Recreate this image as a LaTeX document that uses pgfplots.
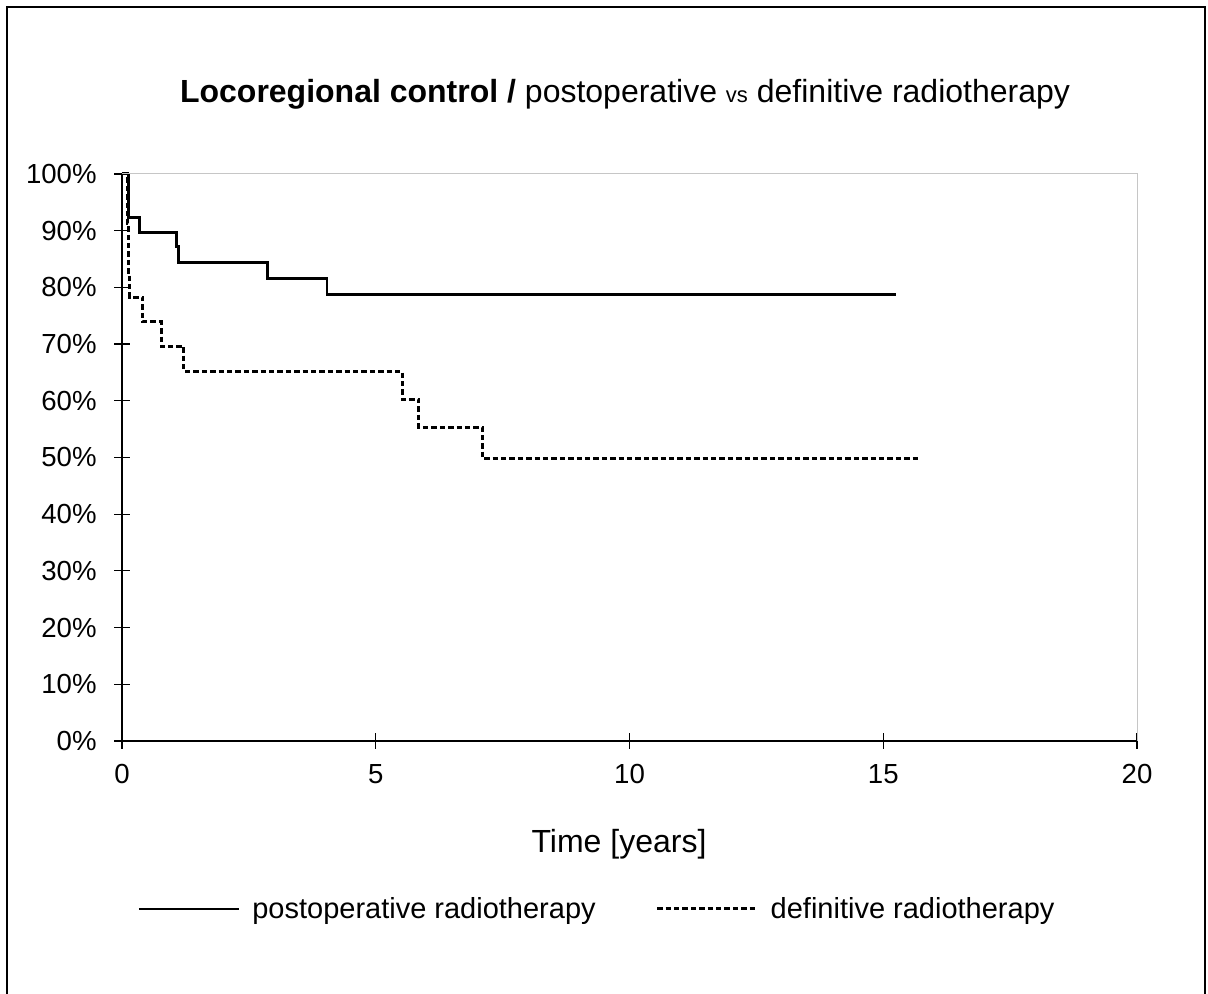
\documentclass[border=0pt]{standalone}
\usepackage{fontspec}
\setmainfont{Liberation Sans}
\usepackage{pgfplots}
\pgfplotsset{compat=1.18}

\begin{document}
\begin{tikzpicture}[x=1pt,y=1pt]
\useasboundingbox (0,0) rectangle (604,497);
\draw[line width=0.8pt] (3.5,-0.5) rectangle (602.6,493.6);
\begin{axis}[
    at={(61pt,126.5pt)}, anchor=south west,
    scale only axis, width=507.5pt, height=283.5pt,
    xmin=0, xmax=20, ymin=0, ymax=100,
    xtick={0,5,10,15,20}, ytick={0,10,...,100},
    axis lines=left, axis line style={-, line width=0.7pt, black},
    tick align=center, major tick length=8pt,
    tick style={line width=0.6pt, black},
    /pgf/number format/assume math mode=true,
    xticklabel={\pgfmathprintnumber{\tick}},
    yticklabel={\pgfmathprintnumber{\tick}\%},
    tick label style={font=\fontsize{13.8}{16}\selectfont, inner sep=0pt},
    xticklabel style={anchor=north, yshift=-7.5pt},
    yticklabel style={anchor=east, xshift=-8.5pt},
    clip=false,
    legend columns=2,
    legend style={at={(0.467,-0.2963)}, anchor=center, draw=none, fill=none,
        font=\fontsize{14.5}{17}\selectfont, nodes={inner sep=0pt},
        /tikz/every odd column/.append style={column sep=6pt},
        /tikz/every even column/.append style={column sep=30pt}},
    legend image code/.code={\draw[#1] (0pt,0pt) -- (50pt,0pt);},
]
% postoperative radiotherapy
\addplot[const plot, black, line width=1.4pt] coordinates {
    (0,100) (0.13,92.3) (0.34,89.7) (1.08,87.2) (1.12,84.4)
    (2.86,81.6) (4.04,78.7) (15.25,78.7)
};
% definitive radiotherapy
\addplot[const plot, black, line width=1.5pt, dash pattern=on 2.7pt off 1.5pt] coordinates {
    (0,100) (0.1,91.3) (0.13,82.6) (0.15,78.3) (0.41,73.9) (0.77,69.6)
    (1.22,65.2) (5.52,60.3) (5.85,55.3) (7.11,49.8) (15.74,49.8)
};
\legend{postoperative radiotherapy, definitive radiotherapy}
\draw[gray!45, line width=0.5pt] (rel axis cs:0,1) -- (rel axis cs:1,1) -- (rel axis cs:1,0);
\end{axis}
\node[anchor=base, font=\fontsize{16}{19}\selectfont] at (312.5,445.5)
    {\bfseries Locoregional control /\mdseries{} postoperative {\fontsize{11}{13}\selectfont vs} definitive radiotherapy};
\node[anchor=base, font=\fontsize{16}{19}\selectfont] at (309.5,70.5) {Time [years]};
\end{tikzpicture}
\end{document}
